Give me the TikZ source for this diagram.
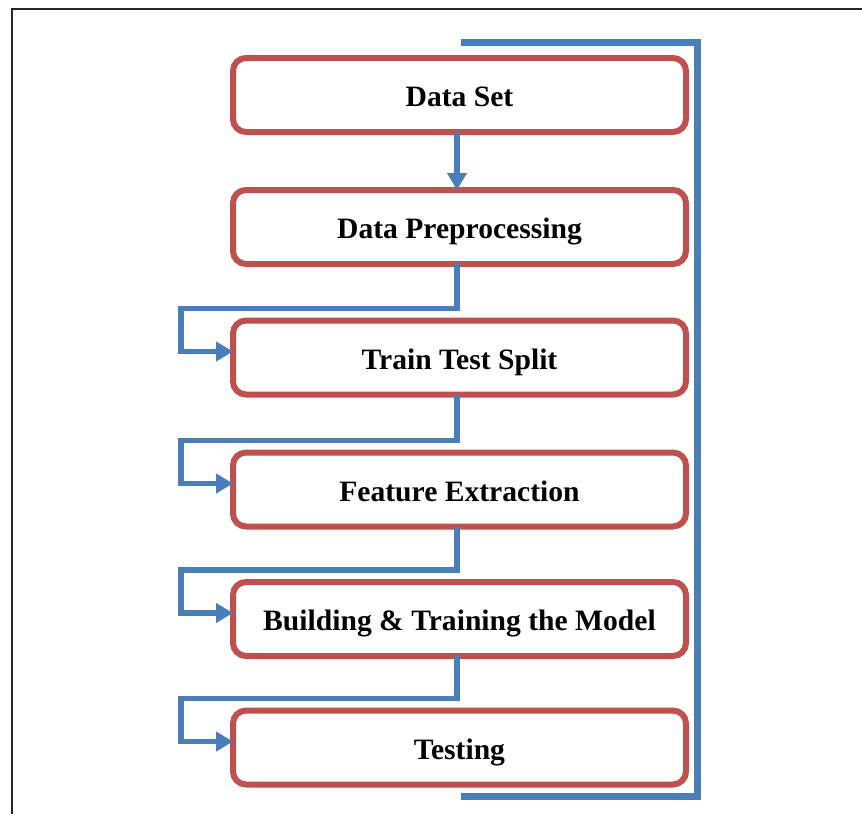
\documentclass[tikz,border=0pt]{standalone}
\usepackage{fontspec}
\setmainfont{Liberation Serif}
\usetikzlibrary{arrows.meta}
\definecolor{boxred}{HTML}{C0504D}
\definecolor{flowblue}{HTML}{4A7EBB}
\begin{document}
\begin{tikzpicture}[x=1pt,y=-1pt,
  stepbox/.style={draw=boxred, line width=6pt, rounded corners=13pt,
    minimum width=453pt, minimum height=74pt, outer sep=0pt, inner sep=0pt,
    text height=23pt, text depth=0pt,
    font=\fontsize{29.6}{34}\selectfont\bfseries},
  flow/.style={draw=flowblue, line width=5.5pt,
    -{Triangle[length=17pt,width=19pt]}},
  feedback/.style={draw=flowblue, line width=7pt, line join=miter}]
\useasboundingbox (0,0) rectangle (862,814);
% outer frame (left and top edges)
\draw[line width=1.5pt, draw=black!85] (12,814) -- (12,9) -- (862,9);

% feedback loop on the right
\coordinate (loopA) at (461,42);
\coordinate (loopB) at (461,796);
\draw[feedback] (loopA) -- (697,42) -- (697,796) -- (loopB);

% process steps
\node[stepbox] (b1) at (459.5,95)    {Data Set};
\node[stepbox] (b2) at (459.5,227)   {Data Preprocessing};
\node[stepbox] (b3) at (459.5,357.5) {Train Test Split};
\node[stepbox] (b4) at (459.5,489.5) {Feature Extraction};
\node[stepbox] (b5) at (459.5,619)   {Building \& Training the Model};
\node[stepbox] (b6) at (459.5,747.5) {Testing};

% straight link between the first two steps
\draw[flow] ([xshift=-2.5pt]b1.south) -- ([xshift=-2.5pt]b2.north);

% elbow links between the remaining steps
\foreach \a/\b/\y in {b2/b3/357.5, b3/b4/489.5, b4/b5/619, b5/b6/747.5}{
  \draw[flow] ([xshift=-2.5pt]\a.south) -- (457,\y-49) -- (181,\y-49)
    -- (181,\y-6) -- ([yshift=6pt]\b.west);
}
\end{tikzpicture}
\end{document}
